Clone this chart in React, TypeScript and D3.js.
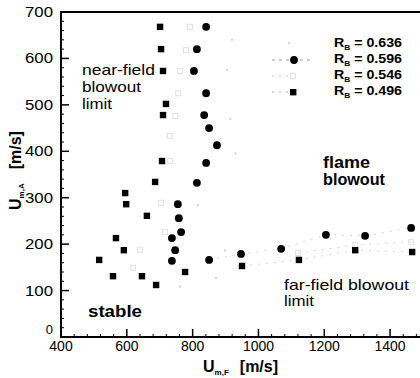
import React, { useEffect, useRef } from "react";
import * as d3 from "d3";

// series: [U_m,F , U_m,A]
const rb0636 = [
  [920, 640], [905, 575], [915, 470], [930, 395], [816, 284],
  [898, 187], [871, 127], [762, 108],
];
const rb0596 = [
  [841, 668], [813, 620], [804, 573], [841, 525], [835, 478], [850, 450],
  [874, 413], [841, 375], [813, 332], [755, 286], [758, 256], [765, 226],
  [737, 213], [747, 187], [737, 164], [850, 166], [947, 179], [1069, 190],
  [1205, 220], [1324, 218], [1464, 235],
];
const rb0546 = [
  [792, 668], [780, 618], [762, 573], [756, 525], [747, 476], [731, 433],
  [731, 379], [704, 289], [716, 226], [640, 187], [619, 149], [1120, 181],
  [1294, 198], [1464, 205],
];
const rb0496 = [
  [701, 668], [704, 620], [710, 573], [719, 502], [710, 478], [707, 379],
  [686, 334], [595, 310], [598, 286], [661, 261], [567, 213], [591, 187],
  [516, 166], [558, 131], [646, 131], [689, 112], [777, 140], [950, 153],
  [1123, 166], [1294, 187], [1467, 183],
];
const legendLabels = ["0.636", "0.596", "0.546", "0.496"];
const xTicks = [400, 600, 800, 1000, 1200, 1400];
const yTicks = [0, 100, 200, 300, 400, 500, 600, 700];

const W = 420;
const H = 378;
const font = "'Liberation Sans', Arial, sans-serif";

export default function App() {
  const ref = useRef<SVGSVGElement>(null);

  useEffect(() => {
    const svg = d3.select(ref.current);
    svg.selectAll("*").remove();

    const x = d3.scaleLinear().domain([400, 1500]).range([61, 423]);
    const y = d3.scaleLinear().domain([0, 700]).range([337, 12]);

    const g = svg.append("g");

    // frame
    g.append("rect")
      .attr("x", x(400))
      .attr("y", y(700))
      .attr("width", x(1500) - x(400))
      .attr("height", y(0) - y(700))
      .attr("fill", "none")
      .attr("stroke", "#000")
      .attr("stroke-width", 2);

    // minor ticks
    g.selectAll("line.xminor")
      .data(d3.range(440, 1500, 40).filter((v) => v % 200 !== 0))
      .join("line")
      .attr("x1", (d) => x(d))
      .attr("x2", (d) => x(d))
      .attr("y1", y(0))
      .attr("y2", y(0) - 3)
      .attr("stroke", "#000");
    g.selectAll("line.yminor")
      .data(d3.range(20, 700, 20).filter((v) => v % 100 !== 0))
      .join("line")
      .attr("x1", x(400))
      .attr("x2", x(400) + 3)
      .attr("y1", (d) => y(d))
      .attr("y2", (d) => y(d))
      .attr("stroke", "#000");

    // major ticks + labels
    g.selectAll("line.xmajor")
      .data(xTicks)
      .join("line")
      .attr("x1", (d) => x(d))
      .attr("x2", (d) => x(d))
      .attr("y1", y(0))
      .attr("y2", y(0) - 8)
      .attr("stroke", "#000")
      .attr("stroke-width", 1.5);
    g.selectAll("text.xlab")
      .data(xTicks)
      .join("text")
      .attr("x", (d) => x(d))
      .attr("y", 351)
      .attr("text-anchor", "middle")
      .attr("font-family", font)
      .attr("font-size", 14)
      .text((d) => d);

    g.selectAll("line.ymajor")
      .data(yTicks)
      .join("line")
      .attr("x1", x(400))
      .attr("x2", x(400) + 8)
      .attr("y1", (d) => y(d))
      .attr("y2", (d) => y(d))
      .attr("stroke", "#000")
      .attr("stroke-width", 1.5);
    g.selectAll("text.ylab")
      .data(yTicks)
      .join("text")
      .attr("x", 53)
      .attr("y", (d) => (d === 0 ? y(d) - 3 : y(d) + 5))
      .attr("text-anchor", "end")
      .attr("font-family", font)
      .attr("font-size", (d) => (d === 0 ? 13 : 14))
      .attr("textLength", (d) => (d === 0 ? null : 28))
      .attr("lengthAdjust", "spacingAndGlyphs")
      .text((d) => d);

    // faint far-field connecting lines
    const line = d3
      .line<number[]>()
      .x((d) => x(d[0]))
      .y((d) => y(d[1]));
    [rb0596, rb0546, rb0496].forEach((s) => {
      const far = s.filter((d) => d[0] >= 840 && d[1] < 250);
      g.append("path")
        .attr("d", line(far))
        .attr("fill", "none")
        .attr("stroke", "#d4d4d4")
        .attr("stroke-width", 1)
        .attr("stroke-dasharray", "2,6");
    });

    // markers
    g.selectAll("circle.s636")
      .data(rb0636)
      .join("circle")
      .attr("cx", (d) => x(d[0]))
      .attr("cy", (d) => y(d[1]))
      .attr("r", 1)
      .attr("fill", "#c8c8c8");

    g.selectAll("rect.s546")
      .data(rb0546)
      .join("rect")
      .attr("x", (d) => x(d[0]) - 2.5)
      .attr("y", (d) => y(d[1]) - 2.5)
      .attr("width", 5)
      .attr("height", 5)
      .attr("fill", "none")
      .attr("stroke", "#c4c4c4")
      .attr("stroke-width", 1)
      .attr("stroke-dasharray", "1,1");

    g.selectAll("rect.s496")
      .data(rb0496)
      .join("rect")
      .attr("x", (d) => x(d[0]) - 3.2)
      .attr("y", (d) => y(d[1]) - 3.2)
      .attr("width", 6.4)
      .attr("height", 6.4)
      .attr("fill", "#000");

    g.selectAll("circle.s596")
      .data(rb0596)
      .join("circle")
      .attr("cx", (d) => x(d[0]))
      .attr("cy", (d) => y(d[1]))
      .attr("r", 3.9)
      .attr("fill", "#000");

    // legend
    const lg = g.append("g");
    legendLabels.forEach((lab, i) => {
      const ly = 43 + i * 16;
      const t = lg
        .append("text")
        .attr("x", 334)
        .attr("y", ly + 4)
        .attr("font-family", font)
        .attr("font-weight", "bold")
        .attr("font-size", 12)
        .attr("textLength", 68)
        .attr("lengthAdjust", "spacingAndGlyphs");
      t.append("tspan").text("R");
      t.append("tspan").attr("font-size", 7).attr("dy", 3).text("B");
      t.append("tspan").attr("dy", -3).text(` = ${lab}`);
    });
    // legend samples
    lg.append("circle").attr("cx", 289).attr("cy", 43).attr("r", 1).attr("fill", "#c8c8c8");
    lg.append("line")
      .attr("x1", 272).attr("x2", 314).attr("y1", 60).attr("y2", 60)
      .attr("stroke", "#999").attr("stroke-dasharray", "3,4");
    lg.append("circle").attr("cx", 294).attr("cy", 60).attr("r", 3.9).attr("fill", "#000");
    lg.append("line")
      .attr("x1", 272).attr("x2", 290).attr("y1", 76).attr("y2", 76)
      .attr("stroke", "#c4c4c4").attr("stroke-dasharray", "2,5");
    lg.append("rect")
      .attr("x", 290.5).attr("y", 73.5).attr("width", 5).attr("height", 5)
      .attr("fill", "none").attr("stroke", "#c4c4c4").attr("stroke-dasharray", "1,1");
    lg.append("line")
      .attr("x1", 272).attr("x2", 290).attr("y1", 92).attr("y2", 92)
      .attr("stroke", "#b0b0b0").attr("stroke-dasharray", "2,5");
    lg.append("rect")
      .attr("x", 290).attr("y", 89).attr("width", 6.4).attr("height", 6.4).attr("fill", "#000");

    // region annotations
    const note = (lines: string[], tx: number, ty: number, dy: number, size: number, bold: boolean, lens: number[]) => {
      lines.forEach((s, i) => {
        g.append("text")
          .attr("x", tx)
          .attr("y", ty + i * dy)
          .attr("font-family", font)
          .attr("font-size", size)
          .attr("font-weight", bold ? "bold" : "normal")
          .attr("textLength", lens[i])
          .attr("lengthAdjust", "spacingAndGlyphs")
          .text(s);
      });
    };
    note(["near-field", "blowout", "limit"], 82, 75, 17, 15, false, [73, 59, 30]);
    note(["flame", "blowout"], 323, 168, 17, 16, true, [47, 62]);
    note(["stable"], 88, 317, 0, 17, true, [54]);
    note(["far-field blowout", "limit"], 284, 290, 16, 15, false, [125, 30]);

    // axis titles
    const xt = g
      .append("text")
      .attr("x", 203)
      .attr("y", 372)
      .attr("font-family", font)
      .attr("font-weight", "bold")
      .attr("font-size", 16);
    xt.append("tspan").text("U");
    xt.append("tspan").attr("font-size", 8).attr("dy", 3).text("m,F");
    xt.append("tspan").attr("dy", -3).attr("dx", 11).text("[m/s]");

    const yt = g
      .append("text")
      .attr("transform", "translate(21,210) rotate(-90)")
      .attr("font-family", font)
      .attr("font-weight", "bold")
      .attr("font-size", 16);
    yt.append("tspan").text("U");
    yt.append("tspan").attr("font-size", 8).attr("dy", 3).text("m,A");
    yt.append("tspan").attr("dy", -3).attr("dx", 14).text("[m/s]");
  }, []);

  return (
    <svg
      ref={ref}
      width={W}
      height={H}
      style={{ position: "absolute", left: 0, top: 0, background: "#fff" }}
    />
  );
}
